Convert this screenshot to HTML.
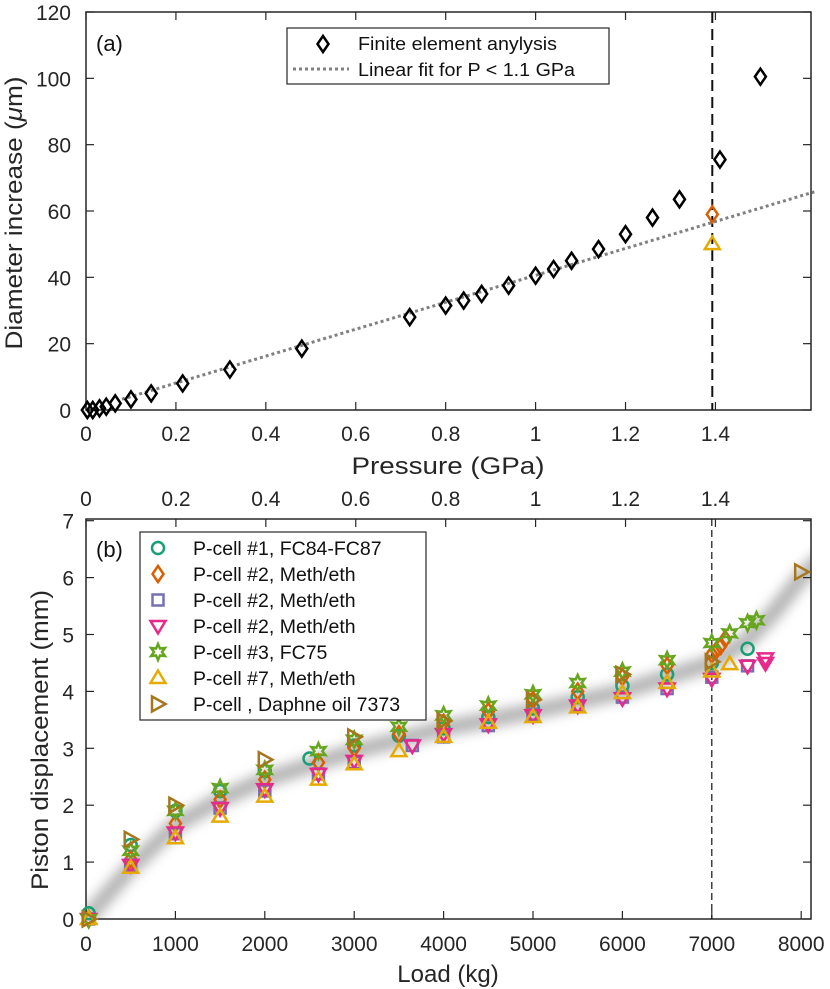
<!DOCTYPE html>
<html><head><meta charset="utf-8"><style>
body{margin:0;background:#fff;}
svg{display:block;font-family:"Liberation Sans",Arial,sans-serif;}
</style></head><body>
<svg id="fig" width="830" height="989" viewBox="0 0 830 989" xmlns="http://www.w3.org/2000/svg">
<defs><filter id="blur" x="-10%" y="-10%" width="120%" height="120%"><feGaussianBlur stdDeviation="6"/></filter></defs>
<g id="pa"></g>
<g id="pb"></g>
</svg>
<script>
// ---- Panel (a) data ----
const feP = [0.003,0.015,0.03,0.045,0.065,0.1,0.145,0.215,0.32,0.48,0.72,0.8,0.84,0.88,0.94,1.0,1.04,1.08,1.14,1.2,1.26,1.32,1.41,1.5];
const feD = [0,0,0.5,1,2,3.2,5,8,12.2,18.5,28,31.5,33,35,37.5,40.5,42.5,45,48.5,53,58,63.5,75.5,100.5];
const fitSlope = 40.6;
const fitRange = [0.08, 1.62];
const expP = [1.393];
const expOrange = [59];
const expYellow = [50];
const aXTicks = [0,0.2,0.4,0.6,0.8,1,1.2,1.4];
const aYTicks = [0,20,40,60,80,100,120];
const aDash = 1.393;
// ---- Panel (b) data ----
const names = ["P-cell #1, FC84-FC87","P-cell #2, Meth/eth","P-cell #2, Meth/eth","P-cell #2, Meth/eth","P-cell #3, FC75","P-cell #7, Meth/eth","P-cell  , Daphne oil 7373"];
const colors = ["#1b9e77","#d95f02","#7570b3","#e7298a","#66a61e","#e6ab02","#a6761d"];
const shapes = ["circle","diamond","square","down","star","up","right"];
const s1L=[30,500,1000,1500,2000,2500,3000,3500,4000,4500,5000,5500,6000,6500,7000,7400];
const s1V=[0.1,1.3,1.9,2.25,2.6,2.82,3.05,3.22,3.35,3.55,3.7,3.9,4.1,4.3,4.5,4.75];
const s2L=[30,500,1000,1500,2000,2600,3000,3500,4000,4500,5000,5500,6000,6500,7000,7050,7100,7150];
const s2V=[0,1.05,1.68,2.1,2.45,2.75,3.0,3.25,3.45,3.65,3.85,4.0,4.25,4.45,4.65,4.72,4.8,4.92];
const s3L=[30,500,1000,1500,2000,2600,3000,3650,4000,4500,5000,5500,6000,6500,7000,7400];
const s3V=[0,0.95,1.5,1.95,2.25,2.55,2.75,3.05,3.2,3.4,3.6,3.75,3.9,4.05,4.25,4.45];
const s4L=[30,500,1000,1500,2000,2600,3000,3650,4000,4500,5000,5500,6000,6500,7000,7400,7600,7600];
const s4V=[0,0.95,1.52,1.95,2.28,2.55,2.78,3.05,3.25,3.42,3.58,3.75,3.88,4.05,4.22,4.45,4.5,4.58];
const s5L=[30,500,1000,1500,2000,2600,3000,3500,4000,4500,5000,5500,6000,6500,7000,7200,7400,7500];
const s5V=[0,1.2,1.9,2.3,2.62,2.95,3.15,3.38,3.58,3.75,3.95,4.15,4.35,4.55,4.85,5.02,5.2,5.25];
const s6L=[30,500,1000,1500,2000,2600,3000,3500,4000,4500,5000,5500,6000,6500,7000,7200];
const s6V=[0,0.9,1.42,1.8,2.15,2.45,2.72,2.95,3.2,3.45,3.55,3.72,3.97,4.15,4.35,4.48];
const s7L=[30,500,1000,2000,3000,4000,5000,6000,7000,8000];
const s7V=[0,1.4,2.0,2.8,3.2,3.48,3.85,4.3,4.52,6.1];
const bandL=[0,500,1000,1500,2000,3000,4000,5000,6000,6500,7000,7400,7700,8000,8200];
const bandV=[0,0.9,1.65,2.1,2.45,2.95,3.35,3.65,4.0,4.25,4.5,4.9,5.4,6.0,6.3];
const bXTicks=[0,1000,2000,3000,4000,5000,6000,7000,8000];
const bYTicks=[0,1,2,3,4,5,6,7];
const bTopTicks=[0,0.2,0.4,0.6,0.8,1,1.2,1.4];
const bDash=7000;

const NS="http://www.w3.org/2000/svg";
function mk(parent,tag,attrs,text){const e=document.createElementNS(NS,tag);for(const k in attrs)e.setAttribute(k,attrs[k]);if(text!==undefined)e.textContent=text;parent.appendChild(e);return e;}

const ax=v=>86+v*449.6, ay=v=>410-v*(398/120);
const bx=v=>86+v*0.0894, by=v=>919-v*56.9;
const bxP=v=>86+v*449.6;
const TF=21;

function marker(g,shape,x,y,c,sw){
  let e;
  if(shape==="circle")e=mk(g,"circle",{cx:x,cy:y,r:6});
  else if(shape==="diamond")e=mk(g,"polygon",{points:`${x},${y-8} ${x+5.5},${y} ${x},${y+8} ${x-5.5},${y}`});
  else if(shape==="square")e=mk(g,"rect",{x:x-5.5,y:y-5.5,width:11,height:11});
  else if(shape==="down")e=mk(g,"polygon",{points:`${x-7.5},${y-5} ${x+7.5},${y-5} ${x},${y+7.5}`});
  else if(shape==="up")e=mk(g,"polygon",{points:`${x-7.5},${y+5} ${x+7.5},${y+5} ${x},${y-7.5}`});
  else if(shape==="right")e=mk(g,"polygon",{points:`${x-6},${y-7.5} ${x+7.5},${y} ${x-6},${y+7.5}`});
  else if(shape==="star"){let p=[];for(let i=0;i<12;i++){const r=i%2?4:8;const a=Math.PI/6*i-Math.PI/2;p.push((x+r*Math.cos(a)).toFixed(1)+","+(y+r*Math.sin(a)).toFixed(1));}e=mk(g,"polygon",{points:p.join(" ")});}
  e.setAttribute("fill","none");e.setAttribute("stroke",c);e.setAttribute("stroke-width",sw||2.5);
  
  
  return e;
}

// ---- Panel A ----
const pa=document.getElementById("pa");
mk(pa,"rect",{x:86,y:12,width:725,height:398,fill:"none",stroke:"#262626","stroke-width":1.5});
aXTicks.forEach(t=>{const x=ax(t);
  mk(pa,"line",{x1:x,x2:x,y1:410,y2:402,stroke:"#262626","stroke-width":1.2});
  mk(pa,"line",{x1:x,x2:x,y1:12,y2:20,stroke:"#262626","stroke-width":1.2});
  const tx=mk(pa,"text",{x:x,y:441,"font-size":TF,"text-anchor":"middle",fill:"#262626"},String(t));
  });
aYTicks.forEach(t=>{const y=ay(t);
  mk(pa,"line",{x1:86,x2:94,y1:y,y2:y,stroke:"#262626","stroke-width":1.2});
  mk(pa,"line",{x1:811,x2:803,y1:y,y2:y,stroke:"#262626","stroke-width":1.2});
  const tx=mk(pa,"text",{x:71,y:y+8,"font-size":TF,"text-anchor":"end",fill:"#262626"},String(t));
  });
mk(pa,"text",{x:448,y:474,"font-size":24,"text-anchor":"middle",textLength:193,lengthAdjust:"spacingAndGlyphs",fill:"#262626",},"Pressure (GPa)");
const yt=mk(pa,"text",{transform:"translate(22,213) rotate(-90)","font-size":24,"text-anchor":"middle",textLength:273,lengthAdjust:"spacingAndGlyphs",fill:"#262626",});
yt.innerHTML='Diameter increase (<tspan font-style="italic">μ</tspan>m)';
mk(pa,"text",{x:96,y:51,"font-size":22,fill:"#111",},"(a)");
mk(pa,"line",{x1:ax(aDash),x2:ax(aDash),y1:12,y2:410,stroke:"#111","stroke-width":2,"stroke-dasharray":"11,6",});
mk(pa,"line",{x1:ax(fitRange[0]),y1:ay(fitRange[0]*fitSlope),x2:ax(fitRange[1]),y2:ay(fitRange[1]*fitSlope),stroke:"#808080","stroke-width":3,"stroke-dasharray":"3,3",});
feP.forEach((p,i)=>marker(pa,"diamond",ax(p),ay(feD[i]),"#000",2.5));
expP.forEach((p,i)=>{marker(pa,"diamond",ax(p),ay(expOrange[i]),"#d95f02",2.5);marker(pa,"up",ax(p),ay(expYellow[i]),"#e6ab02",2.5);});
const la=mk(pa,"g",{});
mk(la,"rect",{x:287,y:28,width:322,height:56,fill:"#fff",stroke:"#262626","stroke-width":1.2});
marker(la,"diamond",323,44,"#000",2.5);
mk(la,"line",{x1:293,x2:349,y1:69,y2:69,stroke:"#808080","stroke-width":3,"stroke-dasharray":"3,3"});
mk(la,"text",{x:358,y:50,"font-size":18,textLength:199,lengthAdjust:"spacingAndGlyphs",fill:"#111",},"Finite element anylysis");
mk(la,"text",{x:358,y:76,"font-size":18,textLength:217,lengthAdjust:"spacingAndGlyphs",fill:"#111",},"Linear fit for P < 1.1 GPa");

// ---- Panel B ----
const pb=document.getElementById("pb");
const clip=mk(pb,"clipPath",{id:"bclip"});mk(clip,"rect",{x:86,y:519,width:725,height:400});
mk(pb,"polyline",{points:bandL.map((l,i)=>bx(l)+","+by(bandV[i])).join(" "),fill:"none",stroke:"#9a9a9a","stroke-width":16,"stroke-linecap":"round","stroke-linejoin":"round",filter:"url(#blur)",opacity:0.75,"clip-path":"url(#bclip)",});
mk(pb,"rect",{x:86,y:519,width:725,height:400,fill:"none",stroke:"#262626","stroke-width":1.5});
bXTicks.forEach(t=>{const x=bx(t);
  mk(pb,"line",{x1:x,x2:x,y1:919,y2:911,stroke:"#262626","stroke-width":1.2});
  const tx=mk(pb,"text",{x:x,y:951,"font-size":TF,"text-anchor":"middle",fill:"#262626"},String(t));
  });
bTopTicks.forEach(t=>{const x=bxP(t);
  mk(pb,"line",{x1:x,x2:x,y1:519,y2:527,stroke:"#262626","stroke-width":1.2});
  const tx=mk(pb,"text",{x:x,y:506,"font-size":TF,"text-anchor":"middle",fill:"#262626"},String(t));
  });
bYTicks.forEach(t=>{const y=by(t);
  mk(pb,"line",{x1:86,x2:94,y1:y,y2:y,stroke:"#262626","stroke-width":1.2});
  mk(pb,"line",{x1:811,x2:803,y1:y,y2:y,stroke:"#262626","stroke-width":1.2});
  const tx=mk(pb,"text",{x:74,y:y+8,"font-size":TF,"text-anchor":"end",fill:"#262626"},String(t));
  });
mk(pb,"text",{x:448,y:982,"font-size":24,"text-anchor":"middle",fill:"#262626",},"Load (kg)");
mk(pb,"text",{transform:"translate(48,740) rotate(-90)","font-size":24,"text-anchor":"middle",textLength:300,lengthAdjust:"spacingAndGlyphs",fill:"#262626",},"Piston displacement (mm)");
mk(pb,"text",{x:96,y:557,"font-size":22,fill:"#111",},"(b)");
mk(pb,"line",{x1:bx(bDash),x2:bx(bDash),y1:519,y2:919,stroke:"#111","stroke-width":1.2,"stroke-dasharray":"7,4",});
const L=[s1L,s2L,s3L,s4L,s5L,s6L,s7L],V=[s1V,s2V,s3V,s4V,s5V,s6V,s7V];
L.forEach((ls,k)=>{const g=mk(pb,"g",{});
  ls.forEach((l,i)=>marker(g,shapes[k],bx(l),by(V[k][i]),colors[k],2.5));});
const lb=mk(pb,"g",{});
mk(lb,"rect",{x:140,y:532,width:286,height:188,fill:"#fff",stroke:"#262626","stroke-width":1.2});
names.forEach((n,i)=>{const y=548+i*26;marker(lb,shapes[i],158,y,colors[i],2.5);
  const t=mk(lb,"text",{x:193,y:y+7,"font-size":19.5,fill:"#111"},n);
  });
</script>
</body></html>
